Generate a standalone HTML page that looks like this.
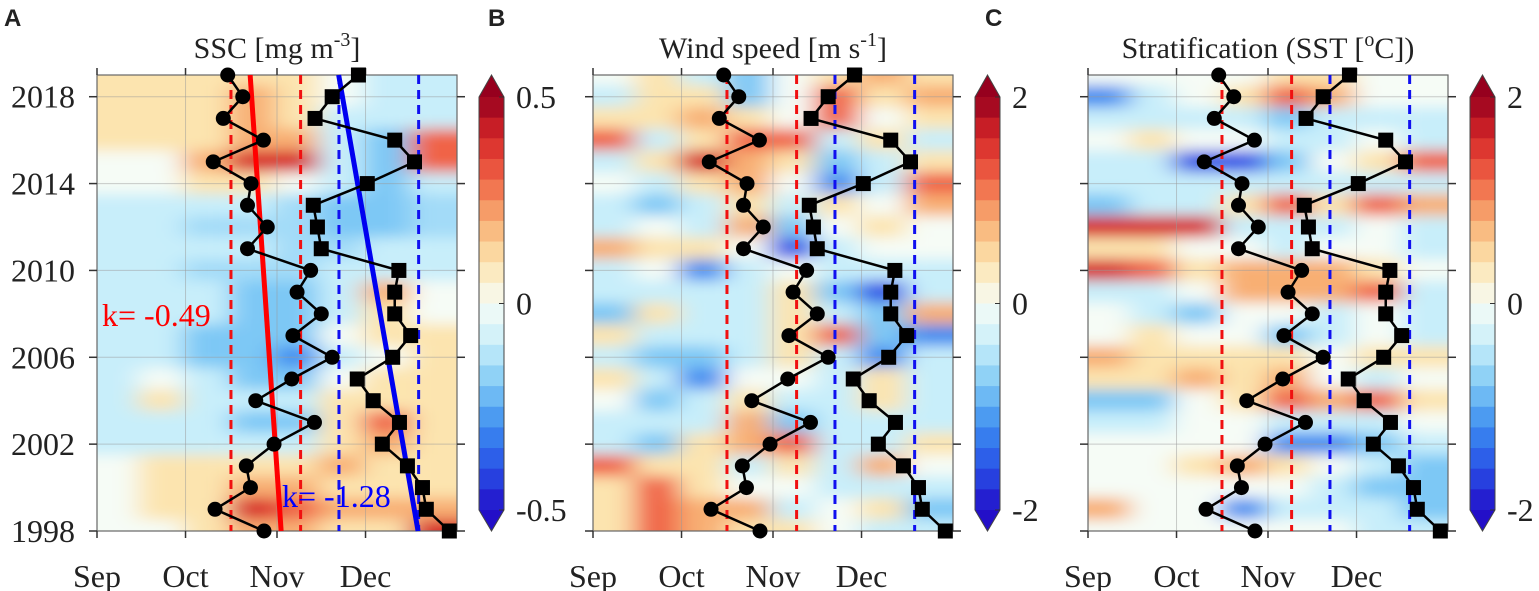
<!DOCTYPE html>
<html><head><meta charset="utf-8"><style>
html,body{margin:0;padding:0;background:#fff;}
svg{display:block;}
text{font-family:"Liberation Serif",serif;fill:#222;}
</style></head><body>
<svg id="chart" width="1539" height="591" viewBox="0 0 1539 591">
<defs>
<filter id="blur" x="-5%" y="-5%" width="110%" height="110%"><feGaussianBlur stdDeviation="13 7" edgeMode="duplicate"/></filter>
</defs>
</svg>
<script>
// ---- data ----
const years = [2019,2018,2017,2016,2015,2014,2013,2012,2011,2010,2009,2008,2007,2006,2005,2004,2003,2002,2001,2000,1999,1998];
const binDays = [7,22,37,53,68,83,98,114]; // day-of-season bin centres (days since Sep 1)
const sscGrid = [
[1,1,1,1,1,0,-1,-1],[1,1,1,2,1,0,-1,-1],[1,1,1,2,1,-1,-1,-1],[1,1,1,2,2,-1,-2,3],
[0,0,2,4,4,-1,-2,3],[0,0,1,1,0,-1,-2,-1],[-1,-1,-1,-1,-1.5,-2,-2,-1.5],[-1,-1,-1.5,-1.5,-1.5,-2,-2,-1.5],
[-1,-1,-1,-1,-1.5,-1.5,-1,-1],[-1,-1,-1.5,-1.5,-1.5,-1,-1,-1],[-1,-1,-1,-2,-2,-1,2,0],[-1,-1,-1,-2,-2,-1,1,0],
[-1,-1,-2,-2,-2,0,1,1],[-1,-1,-2,-2,-3,-1,0,1],[-1,0,-1,-2,-2,0,1,1],[-1,1,-1,-1,-1,1,1,1],
[-1,-1,-1,-2,-2,1,3,1],[-1,-1,-1,-1,-1,1,2,1],[0,1,1,1,1,2,1,1],[0,1,1,2,2,1,1,1],
[0,1,1,4,3,2,2,2],[0,0,1,2,2,1,1,4]];
const windGrid = [
[0,1,-1,-2,0,1,2,1],[-1,1,1,-2,0,3,1,2],[1,1,2,1,0,3,0,1],[3,-1,1,3,3,-1,1,-1],
[-1,1,4,2,1,-2,-1,1],[0,-1,1,2,0,-3,-1,3],[-1,-2,-1,1,-1,1,0,2],[-1,0,-1,2,-2,0,1,0],
[2,1,1,0,-4,-1,0,0],[-1,0,-3,-1,0,-1,-1,-1],[-1,-1,-1,-1,1,-2,-4,-1],[-2,1,-1,-1,1,-1,-2,2],
[1,-1,-1,-1,1,3,-2,-3],[-1,-2,-2,-1,1,-1,-3,-1],[1,-1,-3,0,0,-1,1,-1],[0,-2,-1,1,-1,-1,1,-1],
[-1,-1,-1,2,-2,-1,-1,-1],[-1,-2,1,2,3,-1,-1,1],[3,1,1,-1,1,-1,2,0],[1,3,1,0,0,-1,-1,-1],
[1,3,2,2,-1,0,1,-2],[1,3,2,1,1,0,-1,-1]];
const sstGrid = [
[0,0,0,0,1,1,0,0],[-3,-1,0,1,3,2,0,0],[-1,-1,-1,-1,-2,-1,-1,-1],[0,1,0,0,-1,-1,0,-1],
[-1,-1,-4,-4,-2,0,1,3],[-1,-1,-1,-1,-1,-1,-1,-1],[-2,-1,-1,1,3,1,3,2],[4,4,4,-1,-1,-1,0,-1],
[1,1,0,0,-1,0,0,-1],[4,3,1,2,2,2,1,0],[-1,-1,0,2,2,2,3,-1],[0,-1,-2,0,0,-1,0,-1],
[0,1,0,0,-2,-1,0,-1],[2,1,1,1,1,0,1,1],[1,1,2,1,2,0,-1,0],[-2,-2,0,1,3,2,3,1],
[-1,-1,0,0,-1,-1,-1,0],[0,0,0,0,-3,-3,-2,-1],[0,0,1,2,1,0,-1,-2],[0,0,0,0,0,-1,-2,-2],
[2,0,0,-3,-1,-1,-1,-2],[0,0,0,0,0,0,-1,-1]];
// onset (circles) and end (squares) day since Sep 1, years 1998..2019
const markerYears = [1998,1999,2000,2001,2002,2003,2004,2005,2006,2007,2008,2009,2010,2011,2012,2013,2014,2015,2016,2017,2018,2019];
const onsetDays = [56.6,40,52,50.6,60,73.7,53.8,66,79.7,66.4,76,67.8,72.4,51,57.7,51,52.2,39.4,56.4,42.8,49.4,44.3];
const endDays = [119.4,111.6,110.3,105.2,96.7,102.5,93.6,88.2,100.2,106.3,100.9,100.9,102.3,76,74.7,73.3,91.6,107.6,100.9,73.9,79.7,88.6];
const onsetTrend = [62.4,51.9]; // day at 1998, 2019
const endTrend = [108.8,81.9];
const refRed = [45.4,69];
const refBlue = [82,109];
const yearTicks = [1998,2002,2006,2010,2014,2018];
const monthNames = ["Sep","Oct","Nov","Dec"];
const monthDays = [0,30,61,91];
const cbarLabelsA = ["0.5","0","-0.5"];
const cbarLabelsBC = ["2","0","-2"];

// ---- helpers ----
const NS="http://www.w3.org/2000/svg";
const svg=document.getElementById('chart');
function mk(tag,attrs,parent){const e=document.createElementNS(NS,tag);for(const k in attrs)e.setAttribute(k,attrs[k]);(parent||svg).appendChild(e);return e;}
const W=360,X0=97,YT=75,YB=531;
const xS=d=>X0+d*(W/122);
const yS=y=>YB-(y-1998)*((YB-YT)/21);
const stops=[[-5,[35,15,200]],[-4,[40,80,230]],[-3,[60,140,240]],[-2,[125,200,245]],[-1,[200,238,250]],[0,[246,252,246]],[1,[252,228,175]],[2,[248,175,115]],[3,[240,100,70]],[4,[215,40,40]],[5,[150,0,30]]];
function col(v){v=Math.max(-5,Math.min(5,v));for(let i=0;i<stops.length-1;i++){if(v<=stops[i+1][0]){const t=(v-stops[i][0]);const a=stops[i][1],b=stops[i+1][1];return 'rgb('+a.map((c,j)=>Math.round(c+(b[j]-c)*t)).join(',')+')';}}return 'rgb(150,0,30)';}

function panel(off,grid,letter,titleParts,cbl,key){
  const g=mk('g',{transform:'translate('+off+',0)'});
  
  
  const clip=mk('clipPath',{id:'clip'+key},svg.querySelector('defs'));
  mk('rect',{x:X0,y:YT,width:W,height:YB-YT},clip);
  const hm=mk('g',{'clip-path':'url(#clip'+key+')'},g);
  
  
  const inner=mk('g',{filter:'url(#blur)'},hm);
  grid.forEach((row,r)=>row.forEach((v,c)=>{
    const cx=xS(binDays[c]);const cy=yS(years[r]);
    const cw=W/8+2;const ch=(YB-YT)/21+1;
    const rc=mk('rect',{x:cx-cw/2-(c===0?30:0),y:cy-ch/2-(r===0?20:0),width:cw+(c===0||c===7?30:0),height:ch+(r===0||r===21?20:0),fill:col(v)},inner);
    
    
  }));
  monthDays.forEach(d=>{mk('line',{x1:xS(d),x2:xS(d),y1:YT,y2:YB,stroke:'#999','stroke-opacity':0.5,'stroke-width':1},g);});
  yearTicks.forEach(y=>{mk('line',{x1:X0,x2:X0+W,y1:yS(y),y2:yS(y),stroke:'#999','stroke-opacity':0.5,'stroke-width':1},g);});
  const fr=mk('rect',{x:X0,y:YT,width:W,height:YB-YT,fill:'none',stroke:'#666','stroke-width':1.2},g);
  
  
  yearTicks.forEach(y=>{mk('line',{x1:X0-8,x2:X0,y1:yS(y),y2:yS(y),stroke:'#333','stroke-width':1.5},g);mk('line',{x1:X0+W,x2:X0+W+8,y1:yS(y),y2:yS(y),stroke:'#333','stroke-width':1.5},g);
    if(key==='a'){const t=mk('text',{x:X0-22,y:yS(y)+11,'font-size':32,'text-anchor':'end'},g);t.textContent=y;
    
    }});
  monthDays.forEach((d,i)=>{mk('line',{x1:xS(d),x2:xS(d),y1:YB,y2:YB+7,stroke:'#333','stroke-width':1.5},g);mk('line',{x1:xS(d),x2:xS(d),y1:YT-7,y2:YT,stroke:'#333','stroke-width':1.5},g);
    const t=mk('text',{x:xS(d),y:587,'font-size':32,'text-anchor':'middle'},g);t.textContent=monthNames[i];
    
    });
  refRed.forEach(d=>{const l=mk('line',{x1:xS(d),x2:xS(d),y1:YT,y2:YB,stroke:'#f01010','stroke-width':3,'stroke-dasharray':'9 6'},g);
    
    });
  refBlue.forEach(d=>{const l=mk('line',{x1:xS(d),x2:xS(d),y1:YT,y2:YB,stroke:'#1010f0','stroke-width':3,'stroke-dasharray':'9 6'},g);
    
    });
  if(key==='a'){
    const r=mk('line',{x1:xS(onsetTrend[0]),y1:yS(1998),x2:xS(onsetTrend[1]),y2:yS(2019),stroke:'#f00','stroke-width':5},g);
    
    
    const b=mk('line',{x1:xS(endTrend[0]),y1:yS(1998),x2:xS(endTrend[1]),y2:yS(2019),stroke:'#0000f0','stroke-width':5},g);
    
    
  }
  const p1=onsetDays.map((d,i)=>xS(d)+','+yS(markerYears[i])).join(' ');
  const pl1=mk('polyline',{points:p1,fill:'none',stroke:'#000','stroke-width':2.5},g);
  
  
  const p2=endDays.map((d,i)=>xS(d)+','+yS(markerYears[i])).join(' ');
  const pl2=mk('polyline',{points:p2,fill:'none',stroke:'#000','stroke-width':2.5},g);
  
  
  onsetDays.forEach((d,i)=>{const c=mk('circle',{cx:xS(d),cy:yS(markerYears[i]),r:7.5,fill:'#000'},g);
    
    });
  endDays.forEach((d,i)=>{const s=mk('rect',{x:xS(d)-7.5,y:yS(markerYears[i])-7.5,width:15,height:15,fill:'#000'},g);
    
    });
  if(key==='a'){
    const k1=mk('text',{x:102,y:326,'font-size':32,style:'fill:#f00'},g);k1.textContent='k= -0.49';
    
    
    const k2=mk('text',{x:282,y:507,'font-size':32,style:'fill:#00f'},g);k2.textContent='k= -1.28';
    
    
  }
  const tt=mk('text',{x:X0+W/2,y:58,'font-size':30,'text-anchor':'middle'},g);
  
  
  titleParts.forEach(p=>{const ts=mk('tspan',p[1]?{'font-size':20,dy:-12}:{'dy':p[2]||0},tt);ts.textContent=p[0];});
  const lt=mk('text',{x:(key==='a'?4:(key==='b'?-8:-6)),y:26,'font-size':24,'font-weight':'bold',style:'font-family:"Liberation Sans",sans-serif'},g);
  lt.textContent=letter;
  
  
  const cb=mk('g',{},g);
  
  
  const cx0=479,cw=25,ct=97,cbot=510,n=20;const h=(cbot-ct)/n;
  for(let i=0;i<n;i++){const v=5-(i+0.5)*10/n;mk('rect',{x:cx0,y:ct+i*h,width:cw,height:h+0.5,fill:col(v)},cb);}
  mk('polygon',{points:`${cx0},${ct} ${cx0+cw/2},75 ${cx0+cw},${ct}`,fill:col(5)},cb);
  mk('polygon',{points:`${cx0},${cbot} ${cx0+cw/2},531 ${cx0+cw},${cbot}`,fill:col(-5)},cb);
  mk('polygon',{points:`${cx0},${ct} ${cx0+cw/2},75 ${cx0+cw},${ct} ${cx0+cw},${cbot} ${cx0+cw/2},531 ${cx0},${cbot}`,fill:'none',stroke:'#444','stroke-width':1},cb);
  [ct,(ct+cbot)/2,cbot].forEach((y,i)=>{mk('line',{x1:cx0+cw-5,x2:cx0+cw,y1:y,y2:y,stroke:'#333'},cb);
    const t=mk('text',{x:516,y:y+11,'font-size':32},cb);t.textContent=cbl[i];
    
    });
}
panel(0,sscGrid,'A',[['SSC [mg m'],['-3',1],[']',0,12]],cbarLabelsA,'a');
panel(496,windGrid,'B',[['Wind speed [m s'],['-1',1],[']',0,12]],cbarLabelsBC,'b');
panel(991,sstGrid,'C',[['Stratification (SST ['],['o',1],['C])',0,12]],cbarLabelsBC,'c');
</script>
</body></html>
